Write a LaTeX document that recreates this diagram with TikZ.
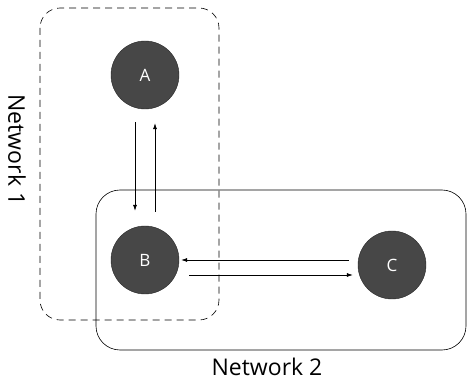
\documentclass[tikz,border=0pt]{standalone}
\usepackage{fontspec}
\setmainfont{Open Sans}
\usetikzlibrary{arrows.meta}
\tikzset{
  host/.style={circle, fill=black!72, draw=black!85, minimum size=68pt, inner sep=0pt,
    text=white, font=\fontsize{17}{17}\selectfont},
  link/.style={-{Latex[length=6pt,width=4pt]}, semithick},
  netlabel/.style={font=\fontsize{23}{23}\selectfont}
}
\begin{document}
\begin{tikzpicture}[x=1pt,y=-1pt]
    \useasboundingbox (0,0) rectangle (469,382);
    %Netzwerke
    \draw[black, semithick, dash pattern=on 7pt off 5pt, rounded corners=20pt] (40,8) rectangle (219,320);
    \draw[black, semithick, rounded corners=24pt] (96,190) rectangle (466,350);
    \node[netlabel, rotate=-90] (net1) at (17,150) {Network 1};
    \node[netlabel] (net2) at (267,367) {Network 2};
    %Knoten
    \node[host] (A) at (145,75)  {A};
    \node[host] (B) at (145,260) {B};
    \node[host] (C) at (392,265) {C};
    %Verbindungen
    \draw[link, shorten <=13pt, shorten >=15pt] ([xshift=-10pt]A.south) -- ([xshift=-10pt]B.north);
    \draw[link, shorten <=14pt, shorten >=14pt] ([xshift=10pt]B.north) -- ([xshift=10pt]A.south);
    \draw[link, shorten <=9pt, shorten >=2pt] (C.west |- B.east) -- (B.east);
    \draw[link, shorten <=10pt, shorten >=5pt] ([yshift=-15pt]B.east) -- ([yshift=-15pt]B.east -| C.west);
\end{tikzpicture}
\end{document}
